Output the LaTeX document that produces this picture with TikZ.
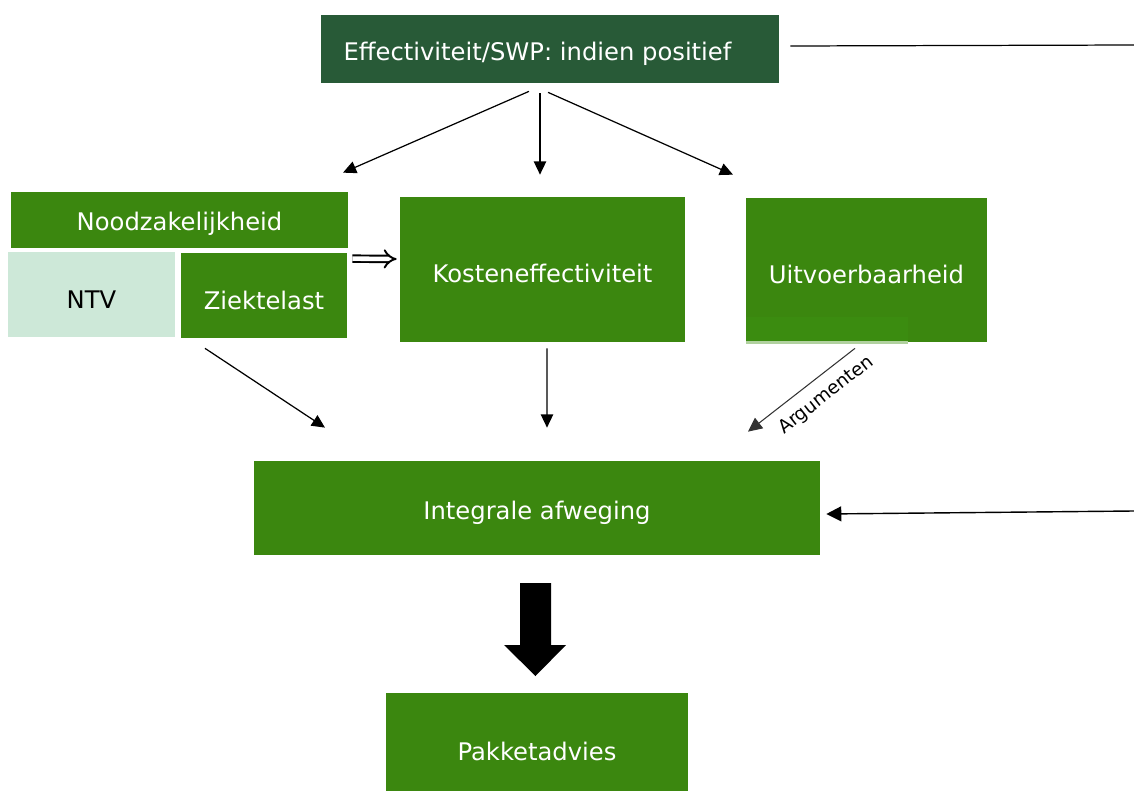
\documentclass[tikz,border=0pt]{standalone}
\usepackage{fontspec}
\setmainfont{DejaVu Sans}
\usetikzlibrary{arrows.meta,calc,fit}
\definecolor{dkgreen}{HTML}{285A37}
\definecolor{mgreen}{HTML}{3B870F}
\definecolor{stripgreen}{HTML}{3B8C10}
\definecolor{ltgreen}{HTML}{CDE8D8}
\begin{document}
\begin{tikzpicture}[x=0.02cm,y=-0.02cm,
  box/.style={fill=mgreen,draw=none,inner sep=0pt},
  lbl/.style={text=white,font=\fontsize{13.8pt}{16pt}\selectfont,inner sep=0pt,yshift=-0.08cm},
  tb/.style={label={[lbl]center:#1}},
  arr/.style={-{Triangle[length=7.5pt,width=7pt]},line width=0.7pt,black}]
\useasboundingbox (0,0) rectangle (1134,791);
% boxes
\node[box,fill=dkgreen,fit={(321,15)(779,83)},label={[lbl,xshift=-0.25cm,yshift=-0.02cm]center:Effectiviteit/SWP: indien positief}] (top) {};
\node[box,fit={(11,192)(348,248)},tb=Noodzakelijkheid] (nood) {};
\node[box,fill=ltgreen,fit={(8,252)(175,337)},label={[lbl,text=black,yshift=-0.02cm]center:NTV}] (ntv) {};
\node[box,fit={(181,253)(347,338)},label={[lbl,yshift=-0.02cm]center:Ziektelast}] (zie) {};
\node[box,fit={(400,197)(685,342)},tb=Kosteneffectiviteit] (kost) {};
\node[box,fit={(746,198)(987,342)},tb=Uitvoerbaarheid] (uit) {};
\fill[stripgreen] (746,317) rectangle (908,343);
\fill[white!60!stripgreen] (746,341) rectangle (908,344);
\node[box,fit={(254,461)(820,555)},label={[lbl,yshift=-0.02cm]center:Integrale afweging}] (int) {};
\node[box,fit={(386,693)(688,791)},label={[lbl,yshift=-0.1cm]center:Pakketadvies}] (pak) {};
% arrows from top
\draw[arr] ($(top.south)+(-21,8)$) -- ($(nood.north)+(163.5,-19)$);
\draw[arr] ($(top.south)+(-10,10)$) -- ($(kost.north)+(-2.5,-22)$);
\draw[arr] ($(top.south)+(-2,9)$) -- ($(uit.north)+(-133.5,-23)$);
% arrows to integrale
\draw[arr] ($(zie.south)+(-59,10)$) -- ($(int.north)+(-212,-33)$);
\draw[arr] ($(kost.south)+(4.5,6)$) -- ($(int.north)+(10,-33)$);
\draw[-{Triangle[length=8pt,width=7.5pt]},line width=0.6pt,black!80] ($(uit.south)+(-11.5,6)$) -- node[sloped,below=5pt,pos=0.38,text=black,font=\fontsize{10.5pt}{12pt}\selectfont,inner sep=1pt] {Argumenten} ($(int.north)+(211,-29)$);
% double arrow
\draw[double,double distance=2.6pt,line width=1.1pt,-{Implies}] ($(zie.north east)+(5,6)$) -- ($(kost.west)+(-3,-10.5)$);
% right lines
\coordinate (rtop) at (1134,45);
\coordinate (rbot) at (1134,511);
\draw[line width=0.7pt] ($(top.east)+(11,-3)$) -- (rtop);
\draw[-{Triangle[length=8.5pt,width=8.5pt]},line width=0.8pt] (rbot) -- ($(int.east)+(6,6)$);
% big block arrow
\fill[black] (520,583) -- (551,583) -- (551,645) -- (566,645) -- (535.5,676) -- (504,645) -- (520,645) -- cycle;
\end{tikzpicture}
\end{document}
